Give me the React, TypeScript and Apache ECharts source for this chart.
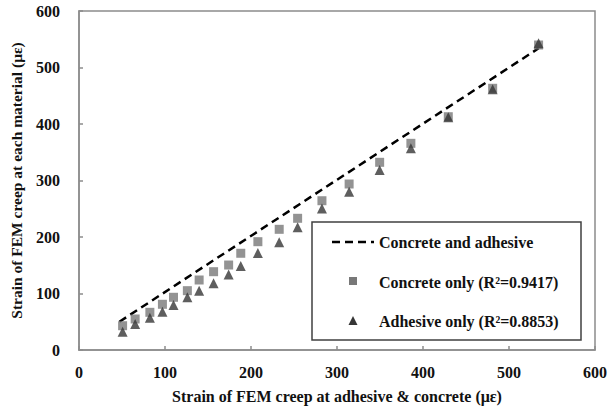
import React, { useEffect, useRef } from "react";
import * as echarts from "echarts";

const concreteX = [50.7, 65.3, 82.4, 97.0, 109.9, 126.0, 139.7, 156.5, 174.0, 188.1, 208.0, 232.8, 254.2, 282.5, 314.1, 349.6, 385.9, 429.4, 481.0, 534.4];
const concreteY = [43.0, 54.9, 66.7, 80.9, 93.3, 105.0, 123.9, 138.6, 150.4, 171.2, 191.7, 213.6, 233.1, 264.2, 293.8, 332.2, 365.8, 412.9, 463.2, 539.8];
const adhesiveY = [32.4, 46.0, 57.2, 67.8, 79.6, 93.3, 105.0, 118.0, 133.5, 148.7, 171.5, 190.5, 217.2, 250.4, 280.2, 318.6, 357.0, 411.9, 461.4, 542.8];
const lineX = [47, 534.4];
const lineY = [50, 534];

const xTicks = [0, 100, 200, 300, 400, 500, 600];
const yTicks = [0, 100, 200, 300, 400, 500, 600];

const legendLabels = [
  "Concrete and adhesive",
  "Concrete only (R²=0.9417)",
  "Adhesive only (R²=0.8853)",
];

const FONT = "'Liberation Serif', 'Times New Roman', serif";
const TEXT = "#111";

export default function App() {
  const ref = useRef<HTMLDivElement>(null);
  useEffect(() => {
    if (!ref.current) return;
    const chart = echarts.init(ref.current, undefined, { renderer: "svg" });
    const axisColor = "#8c8c8c";
    chart.setOption({
      animation: false,
      backgroundColor: "#ffffff",
      grid: {
        left: 74,
        right: 12,
        top: 11,
        bottom: 62,
        show: true,
        borderColor: axisColor,
        borderWidth: 1.5,
      },
      xAxis: {
        type: "value",
        min: xTicks[0],
        max: xTicks[xTicks.length - 1],
        interval: 100,
        name: "Strain of FEM creep at adhesive & concrete (με)",
        nameLocation: "middle",
        nameGap: 38,
        nameTextStyle: { fontFamily: FONT, fontWeight: "bold", fontSize: 16, color: TEXT },
        axisLine: { show: true, lineStyle: { color: axisColor, width: 1.5 } },
        axisTick: { show: true, inside: true, length: 4, lineStyle: { color: axisColor, width: 1.5 } },
        axisLabel: { fontFamily: FONT, fontWeight: "bold", fontSize: 16, color: TEXT, margin: 14 },
        splitLine: { show: false },
      },
      yAxis: {
        type: "value",
        min: yTicks[0],
        max: yTicks[yTicks.length - 1],
        interval: 100,
        name: "Strain of FEM creep at each material (με)",
        nameLocation: "middle",
        nameGap: 55,
        nameTextStyle: { fontFamily: FONT, fontWeight: "bold", fontSize: 15.5, color: TEXT },
        axisLine: { show: true, lineStyle: { color: axisColor, width: 1.5 } },
        axisTick: { show: true, inside: true, length: 4, lineStyle: { color: axisColor, width: 1.5 } },
        axisLabel: { fontFamily: FONT, fontWeight: "bold", fontSize: 16, color: TEXT, margin: 19 },
        splitLine: { show: false },
      },
      series: [
        {
          name: legendLabels[0],
          type: "line",
          data: lineX.map((x, i) => [x, lineY[i]]),
          showSymbol: false,
          lineStyle: { color: "#000", width: 2.5, type: [8, 5] },
          z: 1,
        },
        {
          name: legendLabels[1],
          type: "scatter",
          data: concreteX.map((x, i) => [x, concreteY[i]]),
          symbol: "rect",
          symbolSize: 9,
          itemStyle: { color: "#787878" },
          z: 2,
        },
        {
          name: legendLabels[2],
          type: "scatter",
          data: concreteX.map((x, i) => [x, adhesiveY[i]]),
          symbol: "triangle",
          symbolSize: 10,
          itemStyle: { color: "#363636" },
          z: 3,
        },
      ],
      graphic: [
        {
          type: "rect",
          shape: { x: 312, y: 222, width: 269, height: 118 },
          style: { fill: "#fff", stroke: "#404040", lineWidth: 1.5 },
          z: 10,
        },
        {
          type: "line",
          shape: { x1: 332, y1: 242, x2: 374, y2: 242 },
          style: { stroke: "#000", lineWidth: 2.5, lineDash: [8, 5] },
          z: 11,
        },
        {
          type: "rect",
          shape: { x: 349, y: 277, width: 8, height: 8 },
          style: { fill: "#787878" },
          z: 11,
        },
        {
          type: "polygon",
          shape: { points: [[353, 316], [357.5, 325], [348.5, 325]] },
          style: { fill: "#363636" },
          z: 11,
        },
        ...legendLabels.map((t, i) => ({
          type: "text",
          x: 379,
          y: [242, 282, 321][i],
          style: {
            text: t,
            fontFamily: FONT,
            fontWeight: "bold",
            fontSize: 16,
            fill: TEXT,
            verticalAlign: "middle",
          },
          z: 11,
        })),
      ],
    });
    return () => chart.dispose();
  }, []);
  return (
    <div
      ref={ref}
      style={{ position: "fixed", left: 0, top: 0, width: 610, height: 412, background: "#fff" }}
    />
  );
}
